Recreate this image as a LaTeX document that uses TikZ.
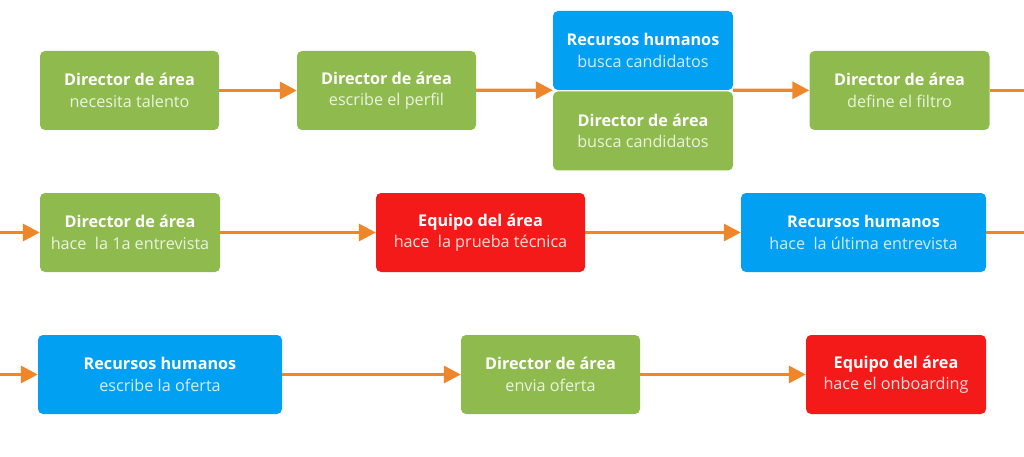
\documentclass[tikz,border=0pt]{standalone}
\usepackage{fontspec}
\setmainfont{Open Sans}
\usetikzlibrary{arrows.meta}
\definecolor{cgreen}{HTML}{8FBB4E}
\definecolor{cblue}{HTML}{02A0F2}
\definecolor{cred}{HTML}{F41A1A}
\definecolor{corange}{HTML}{F0862A}
\colorlet{gsub}{white!82!cgreen}
\colorlet{bsub}{white!82!cblue}
\colorlet{rsub}{white!85!cred}
\tikzset{
  box/.style={rounded corners=5pt, inner sep=0pt, align=center, text=white,
    font=\fontsize{16.2}{21.5}\selectfont, minimum height=79pt},
  gbox/.style={box, fill=cgreen},
  bbox/.style={box, fill=cblue},
  rbox/.style={box, fill=cred},
  flow/.style={draw=corange, line width=3.3pt, -{Triangle[length=17pt,width=17pt]}},
  exitline/.style={draw=corange, line width=3.3pt},
}
\begin{document}
\begin{tikzpicture}[x=1pt,y=-1pt]
\fill[white] (0,0) rectangle (1024,457);
\useasboundingbox (0,0) rectangle (1024,457);
% row 1
\node[gbox, minimum width=179pt] (a1) at (129.5,90.5) {\textbf{Director de área}\\{\color{gsub}necesita talento}};
\node[gbox, minimum width=179pt] (a2) at (386.5,90.5) {\textbf{Director de área}\\{\color{gsub}escribe el perfil}};
\node[bbox, minimum width=180pt] (a3a) at (643,50.5) {\textbf{Recursos humanos}\\{\color{bsub}busca candidatos}};
\node[gbox, minimum width=180pt] (a3b) at (643,131) {\textbf{Director de área}\\{\color{gsub}busca candidatos}};
\node[gbox, minimum width=180pt] (a4) at (899.5,90.5) {\textbf{Director de área}\\{\color{gsub}define el filtro}};
\coordinate (a5) at (1024,90.5);
% row 2
\coordinate (b0) at (0,232.5);
\node[gbox, minimum width=180pt] (b1) at (130,232.5) {\textbf{Director de área}\\{\color{gsub}hace\ \ la 1a entrevista}};
\node[rbox, minimum width=209pt] (b2) at (480.5,232.5) {\textbf{Equipo del área}\\{\color{rsub}hace\ \ la prueba técnica}};
\node[bbox, minimum width=245pt] (b3) at (863.5,232.5) {\textbf{Recursos humanos}\\{\color{bsub}hace\ \ la última entrevista}};
\coordinate (b4) at (1024,232.5);
% row 3
\coordinate (c0) at (0,374.5);
\node[bbox, minimum width=244pt] (c1) at (160,374.5) {\textbf{Recursos humanos}\\{\color{bsub}escribe la oferta}};
\node[gbox, minimum width=179pt] (c2) at (550.5,374.5) {\textbf{Director de área}\\{\color{gsub}envia oferta}};
\node[rbox, minimum width=180pt] (c3) at (896,374.5) {\textbf{Equipo del área}\\{\color{rsub}hace el onboarding}};
% connectors
\draw[flow] (a1) -- (a2);
\draw[flow] (a2) -- (a3a.south west);
\draw[flow] (a3a.south east) -- (a4);
\draw[exitline] (a4) -- (a5);
\draw[flow] (b0) -- (b1);
\draw[flow] (b1) -- (b2);
\draw[flow] (b2) -- (b3);
\draw[exitline] (b3) -- (b4);
\draw[flow] (c0) -- (c1);
\draw[flow] (c1) -- (c2);
\draw[flow] (c2) -- (c3);
\end{tikzpicture}
\end{document}
